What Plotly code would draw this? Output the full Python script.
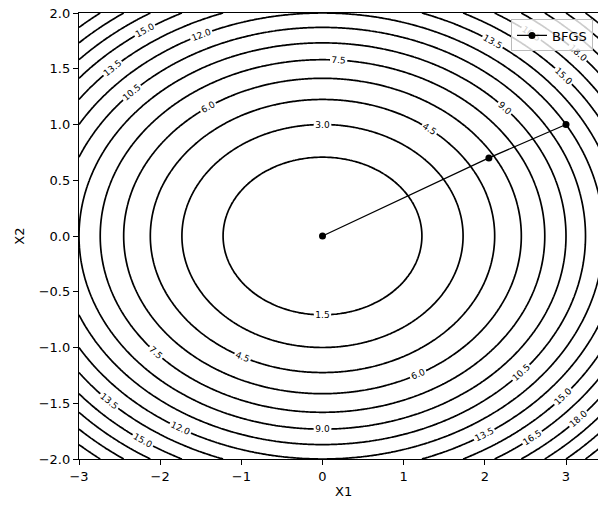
import numpy as np
import plotly.graph_objects as go

# ---- data ----
# quadratic objective whose contours are drawn: f = c1*x1^2 + c2*x2^2
coef_x1 = 1.0
coef_x2 = 3.0
x1_min, x1_max, x1_n = -3.0, 3.5, 261
x2_min, x2_max, x2_n = -2.0, 2.0, 201
level_start, level_end, level_step = 1.5, 24.0, 1.5

# BFGS iterates
path_x1 = [3.0, 2.05, 0.0]
path_x2 = [1.0, 0.70, 0.0]
series_name = "BFGS"

x_tick_vals = [-3, -2, -1, 0, 1, 2, 3]
y_tick_vals = [-2.0, -1.5, -1.0, -0.5, 0.0, 0.5, 1.0, 1.5, 2.0]
x_title = "X1"
y_title = "X2"

# ---- grid for the contour field ----
x1 = np.linspace(x1_min, x1_max, x1_n)
x2 = np.linspace(x2_min, x2_max, x2_n)
X1, X2 = np.meshgrid(x1, x2)
Z = coef_x1 * X1 ** 2 + coef_x2 * X2 ** 2

FONT = "DejaVu Sans"

fig = go.Figure()
fig.add_trace(go.Contour(
    x=x1, y=x2, z=Z,
    contours=dict(start=level_start, end=level_end, size=level_step,
                  coloring="lines", showlabels=True,
                  labelfont=dict(size=9, color="black", family=FONT),
                  labelformat=".1f"),
    colorscale=[[0, "black"], [1, "black"]],
    line=dict(width=1.7),
    showscale=False, showlegend=False, hoverinfo="skip",
))
fig.add_trace(go.Scatter(
    x=path_x1, y=path_x2, mode="lines+markers", name=series_name,
    line=dict(color="black", width=1.3),
    marker=dict(color="black", size=7, symbol="circle"),
    showlegend=True,
))

# plot area geometry (pixels)
W, H = 598, 505
L, T, B = 79, 12.5, 46
pw = W - L
ph = H - T - B
xr_max = -3 + 6 * pw / (566 - 79)

fig.update_layout(
    width=W, height=H,
    margin=dict(l=L, r=0, t=T, b=B, pad=0),
    paper_bgcolor="white", plot_bgcolor="white",
    font=dict(family=FONT, size=13, color="black"),
    showlegend=True,
    legend=dict(x=(511 - L) / pw, y=1 - (19 - T) / ph,
                xanchor="left", yanchor="top",
                bgcolor="rgba(255,255,255,0.8)", bordercolor="#bbbbbb",
                borderwidth=1, font=dict(size=13, family=FONT)),
    xaxis=dict(range=[-3, xr_max], tickvals=x_tick_vals,
               ticks="outside", ticklen=5, tickwidth=1, tickcolor="black",
               showline=True, linecolor="black", linewidth=1.3, mirror=True,
               showgrid=False, zeroline=False, tickfont=dict(size=13)),
    yaxis=dict(range=[-2, 2], tickvals=y_tick_vals, tickformat=".1f",
               ticks="outside", ticklen=5, tickwidth=1, tickcolor="black",
               showline=True, linecolor="black", linewidth=1.3, mirror=False,
               showgrid=False, zeroline=False, tickfont=dict(size=13)),
    annotations=[
        dict(text=x_title, xref="paper", yref="paper",
             x=(343.5 - L) / pw, y=(H - B - 492) / ph,
             xanchor="center", yanchor="middle", showarrow=False,
             font=dict(size=13, family=FONT)),
        dict(text=y_title, xref="paper", yref="paper",
             x=(20 - L) / pw, y=(H - B - 236.5) / ph, textangle=-90,
             xanchor="center", yanchor="middle", showarrow=False,
             font=dict(size=13, family=FONT)),
    ],
)

fig.write_html("out.html")
